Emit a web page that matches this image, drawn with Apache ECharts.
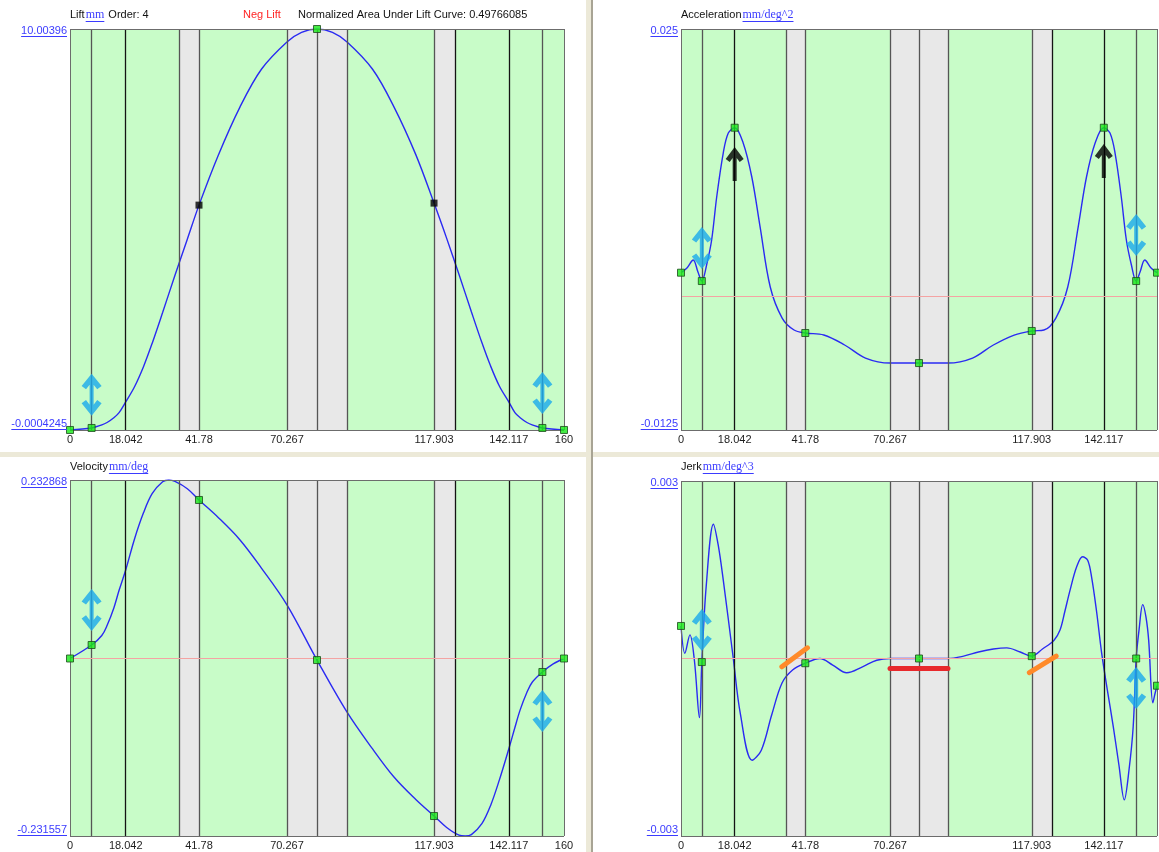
<!DOCTYPE html>
<html>
<head>
<meta charset="utf-8">
<script src="https://cdn.jsdelivr.net/npm/echarts@6/dist/echarts.min.js"></script>
<style>
  html, body { margin: 0; padding: 0; background: #ffffff; }
  #chart { width: 1159px; height: 852px; }
</style>
</head>
<body>
<div id="chart"></div>
<script>
// ---- cam profile data (degrees of rotation on x) ----
const xTickValues = [0, 18.042, 41.78, 70.267, 117.903, 142.117, 160];
const xTickValuesRight = [0, 18.042, 41.78, 70.267, 117.903, 142.117];

const grayZones = [[35.3, 41.78], [70.267, 89.733], [117.903, 124.7]];
const guideLines = [7, 18.042, 35.3, 41.78, 70.267, 80, 89.733, 117.903, 124.7, 142.117, 153];
const darkGuides = [18.042, 124.7, 142.117];

// Lift (mm)
const liftX = [0, 7, 10.3, 12, 14.2, 15.9, 18.042, 20.9, 23.8, 26.6, 30, 34, 38, 41.78, 48, 55, 62, 70.267, 75, 80, 85, 89.733, 98, 105, 112, 117.903, 122, 126, 130, 133.4, 136.2, 139.1, 142.117, 144.1, 145.8, 148, 149.7, 153, 160];
const liftY = [0, 0.05, 0.126, 0.187, 0.306, 0.434, 0.70, 1.08, 1.58, 2.16, 2.93, 3.86, 4.76, 5.61, 6.85, 8.05, 9.0, 9.68, 9.92, 10.00396, 9.92, 9.68, 9.0, 8.05, 6.87, 5.66, 4.78, 3.88, 2.95, 2.18, 1.60, 1.09, 0.70, 0.434, 0.306, 0.187, 0.126, 0.05, 0];
const liftTickLabels = ['-0.0004245', '10.00396'];
const liftGreen = [0, 7, 80, 153, 160];
const liftBlack = [41.78, 117.903];
const liftArrows = [[7, 0.88], [153, 0.92]];

// Velocity (mm/deg)
const velX = [0, 7, 10.3, 12, 14.2, 15.9, 18.042, 20.9, 23.8, 26.6, 30, 32, 34, 38, 41.78, 48, 55, 62, 70.267, 80, 89.733, 98, 105, 112, 117.903, 122, 126, 128, 130, 133.4, 136.2, 139.1, 142.117, 144.1, 145.8, 148, 149.7, 153, 156.5, 160];
const velY = [0, 0.0176, 0.03, 0.043, 0.066, 0.089, 0.1155, 0.156, 0.19, 0.215, 0.2305, 0.232868, 0.231, 0.2215, 0.2068, 0.184, 0.155, 0.118, 0.07, -0.002, -0.07, -0.118, -0.155, -0.184, -0.2055, -0.2205, -0.2305, -0.231557, -0.2298, -0.2155, -0.192, -0.158, -0.118, -0.09, -0.067, -0.044, -0.031, -0.0176, -0.007, 0];
const velTickLabels = ['-0.231557', '0.232868'];
const velGreen = [0, 7, 41.78, 80, 117.903, 153, 160];
const velArrows = [[7, 0.0633], [153, -0.0685]];

// Acceleration (mm/deg^2)
const accX = [0, 2, 4.1, 5.7, 7, 8.6, 10.3, 12, 14.2, 15.9, 18.042, 20.9, 23.8, 26.6, 30, 34, 38, 41.78, 48, 55, 62, 70.267, 80, 89.733, 98, 105, 112, 117.903, 122, 126, 130, 133.5, 136.3, 139.2, 142.117, 144.2, 145.9, 148, 149.7, 151.4, 153, 154.3, 155.9, 158, 160];
const accY = [0.00221, 0.00265, 0.0034, 0.00227, 0.00143, 0.00293, 0.00527, 0.00929, 0.0134, 0.01527, 0.01577, 0.01434, 0.01116, 0.00648, 0.00087, -0.00203, -0.00315, -0.00343, -0.00362, -0.00455, -0.00577, -0.00624, -0.00624, -0.00624, -0.00577, -0.00455, -0.00362, -0.00324, -0.00315, -0.00203, 0.00087, 0.00648, 0.01116, 0.01434, 0.01577, 0.01527, 0.0134, 0.00929, 0.00527, 0.00293, 0.00143, 0.00227, 0.0034, 0.00265, 0.00221];
const accTickLabels = ['-0.0125', '0.025'];
const accGreen = [0, 7, 18.042, 41.78, 80, 117.903, 142.117, 153, 160];
const accArrows = [[7, 0.00452], [153, 0.00573]];
const accUpArrows = [[18.042, 0.01237], [142.117, 0.01266]];

// Jerk (mm/deg^3)
const jerkX = [0, 1.3, 3, 4.5, 6.2, 7, 8.5, 10.9, 12.5, 14.2, 17.5, 20, 23.9, 27, 30.5, 34, 37.6, 41.78, 46.7, 51, 55.7, 61, 65.8, 70.267, 80, 89.733, 95, 100, 105, 109.5, 114, 117.903, 121.5, 125.4, 127.4, 129, 130.8, 133, 135, 136.7, 138, 139.7, 141.4, 143.3, 145.3, 147.2, 149, 150.6, 152, 153, 154, 155.2, 156.3, 157.2, 158.6, 159.3, 160];
const jerkY = [0.00055, 0.00009, 0.0004, -0.00003, -0.001, -0.00006, 0.00124, 0.00227, 0.00192, 0.00133, 0.00003, -0.00095, -0.00172, -0.00155, -0.00095, -0.00041, -0.00019, -0.00008, 0, -0.00011, -0.00024, -0.00014, -0.00003, 0, 0, 0, 0.00004, 0.00011, 0.00016, 0.00018, 0.00011, 0.00004, 0.00016, 0.00031, 0.00048, 0.00079, 0.00116, 0.00155, 0.00172, 0.00166, 0.00138, 0.00079, 0.00009, -0.00053, -0.00115, -0.0018, -0.00239, -0.00188, -0.00115, 0, 0.0005, 0.00091, 0.0007, 0.00031, -0.00075, -0.0006, -0.00046];
const jerkTickLabels = ['-0.003', '0.003'];
const jerkGreen = [0, 7, 41.78, 80, 117.903, 153, 160];
const jerkArrows = [[7, 0.00048], [153, -0.0005]];
// boundary-condition strokes drawn on the jerk plot
const jerkSlopes = [[[33.9, -0.00014], [42.5, 0.00018]], [[117.1, -0.00024], [126.1, 0.00004]]];
const jerkFlat = [[70.267, -0.00016], [89.733, -0.00016]];

// ---- styling ----
const SANS = '"Liberation Sans", Arial, sans-serif';
const SERIF = '"Liberation Serif", "Times New Roman", serif';
const LINK = '#3b3bff';
const GREEN_BG = '#c8fcc8';
const GRAY_ZONE = '#e8e8e8';
const CURVE = '#2a2af2';
const DOUBLE_ARROW = 'path://M10 0 L20 13 L15.6 16.35 L12 11.6 L12 32.4 L15.6 27.65 L20 31 L10 44 L0 31 L4.4 27.65 L8 32.4 L8 11.6 L4.4 16.35 L0 13 Z';
const UP_ARROW = 'path://M9 0 L18 12 L14 15 L11 11 L11 34 L7 34 L7 11 L4 15 L0 12 Z';

const panels = [
  { grid: { left: 70, top: 29, width: 494, height: 401 }, xs: liftX, ys: liftY, yMin: -0.0004245, yMax: 10.00396,
    tickLabels: liftTickLabels, xTicks: xTickValues, green: liftGreen, black: liftBlack, arrows: liftArrows, up: [],
    title: 'Lift', unit: 'mm', titleY: 15 },
  { grid: { left: 681, top: 29, width: 476, height: 401 }, xs: accX, ys: accY, yMin: -0.0125, yMax: 0.025,
    tickLabels: accTickLabels, xTicks: xTickValuesRight, green: accGreen, black: [], arrows: accArrows, up: accUpArrows,
    title: 'Acceleration', unit: 'mm/deg^2', titleY: 15 },
  { grid: { left: 70, top: 480, width: 494, height: 356 }, xs: velX, ys: velY, yMin: -0.231557, yMax: 0.232868,
    tickLabels: velTickLabels, xTicks: xTickValues, green: velGreen, black: [], arrows: velArrows, up: [],
    title: 'Velocity', unit: 'mm/deg', titleY: 467 },
  { grid: { left: 681, top: 481, width: 476, height: 355 }, xs: jerkX, ys: jerkY, yMin: -0.003, yMax: 0.003,
    tickLabels: jerkTickLabels, xTicks: xTickValuesRight, green: jerkGreen, black: [], arrows: jerkArrows, up: [],
    title: 'Jerk', unit: 'mm/deg^3', titleY: 467 }
];

const pointAt = (p, x) => [x, p.ys[p.xs.indexOf(x)]];

const grids = [], xAxes = [], yAxes = [], series = [];

panels.forEach((p, i) => {
  grids.push(Object.assign({ show: true, backgroundColor: GREEN_BG, borderWidth: 0 }, p.grid));

  xAxes.push({
    type: 'value', gridIndex: i, min: 0, max: 160,
    axisLine: { show: false }, axisTick: { show: false }, splitLine: { show: false },
    axisLabel: {
      customValues: p.xTicks, margin: 4, color: '#1e1e1e', fontSize: 11, fontFamily: SANS,
      formatter: v => String(v)
    }
  });

  const mid = (p.yMin + p.yMax) / 2;
  yAxes.push({
    type: 'value', gridIndex: i, min: p.yMin, max: p.yMax,
    axisLine: { show: false }, axisTick: { show: false }, splitLine: { show: false },
    axisLabel: {
      customValues: [p.yMin, p.yMax], margin: 3, fontSize: 11, fontFamily: SANS, color: LINK,
      formatter: v => (v < mid ? '{lo|' + p.tickLabels[0] + '}' : '{hi|' + p.tickLabels[1] + '}'),
      rich: {
        lo: { color: LINK, fontSize: 11, fontFamily: SANS, lineHeight: 12, padding: [0, 0, 13, 0] },
        hi: { color: LINK, fontSize: 11, fontFamily: SANS, lineHeight: 12, padding: [4, 0, 0, 0] }
      }
    }
  });

  // shaded zones, guide lines, zero line and plot frame
  const lines = guideLines.map(v => ({
    xAxis: v,
    lineStyle: { color: darkGuides.includes(v) ? '#141414' : '#555555', width: 1.3, type: 'solid' }
  }));
  lines.push({ yAxis: 0, lineStyle: { color: '#f4a3a3', width: 1, type: 'solid' } });
  [0, 160].forEach(v => lines.push({ xAxis: v, lineStyle: { color: '#6c6c6c', width: 1, type: 'solid' } }));
  [p.yMin, p.yMax].forEach(v => lines.push({ yAxis: v, lineStyle: { color: '#6c6c6c', width: 1, type: 'solid' } }));

  series.push({
    type: 'line', xAxisIndex: i, yAxisIndex: i, z: 1, silent: true,
    data: [[0, p.yMin]], showSymbol: false, lineStyle: { opacity: 0 },
    markArea: { silent: true, itemStyle: { color: GRAY_ZONE }, data: grayZones.map(([a, b]) => [{ xAxis: a }, { xAxis: b }]) },
    markLine: { silent: true, precision: 10, symbol: ['none', 'none'], label: { show: false }, animation: false, data: lines }
  });

  series.push({
    type: 'line', xAxisIndex: i, yAxisIndex: i, z: 3, silent: true,
    data: p.xs.map((x, j) => [x, p.ys[j]]),
    smooth: 0.35, showSymbol: false,
    lineStyle: { color: CURVE, width: 1.4 }
  });

  series.push({
    type: 'scatter', xAxisIndex: i, yAxisIndex: i, z: 5, silent: true,
    data: p.arrows, symbol: DOUBLE_ARROW, symbolSize: [20, 42],
    itemStyle: { color: '#19a9ec' }
  });

  if (p.up.length) {
    series.push({
      type: 'scatter', xAxisIndex: i, yAxisIndex: i, z: 5, silent: true,
      data: p.up, symbol: UP_ARROW, symbolSize: [18, 34],
      itemStyle: { color: '#000000' }
    });
  }

  series.push({
    type: 'scatter', xAxisIndex: i, yAxisIndex: i, z: 6, silent: true, clip: false,
    data: p.green.map(x => pointAt(p, x)), symbol: 'rect', symbolSize: 7,
    itemStyle: { color: '#18e818', borderColor: '#1c4a1c', borderWidth: 1 }
  });

  if (p.black.length) {
    series.push({
      type: 'scatter', xAxisIndex: i, yAxisIndex: i, z: 6, silent: true, clip: false,
      data: p.black.map(x => pointAt(p, x)), symbol: 'rect', symbolSize: 7,
      itemStyle: { color: '#000000' }
    });
  }
});

// jerk boundary strokes
series.push({
  type: 'line', xAxisIndex: 3, yAxisIndex: 3, z: 4, silent: true,
  data: [[0, jerkY[0]]], showSymbol: false, lineStyle: { opacity: 0 },
  markLine: {
    silent: true, precision: 10, symbol: ['none', 'none'], label: { show: false }, animation: false,
    data: [
      ...jerkSlopes.map(([a, b]) => [{ coord: a, lineStyle: { color: '#ff8a2a', width: 5, cap: 'round', type: 'solid' } }, { coord: b }]),
      [{ coord: jerkFlat[0], lineStyle: { color: '#e8282c', width: 5, cap: 'round', type: 'solid' } }, { coord: jerkFlat[1] }]
    ]
  }
});

// ---- panel headings, window splitters and underlines ----
const measureCtx = document.createElement('canvas').getContext('2d');
function textWidth(str, font) { measureCtx.font = font; return measureCtx.measureText(str).width; }

const graphics = [];
// splitters between the four panes
graphics.push({ type: 'rect', shape: { x: 586, y: 0, width: 5, height: 852 }, style: { fill: '#ece9d8' }, z: 0 });
graphics.push({ type: 'rect', shape: { x: 591, y: 0, width: 2, height: 852 }, style: { fill: '#a8a494' }, z: 0 });
graphics.push({ type: 'rect', shape: { x: 0, y: 452, width: 586, height: 5 }, style: { fill: '#ece9d8' }, z: 0 });
graphics.push({ type: 'rect', shape: { x: 593, y: 452, width: 566, height: 5 }, style: { fill: '#ece9d8' }, z: 0 });

function addText(str, x, y, font, color) {
  graphics.push({ type: 'text', z: 10, style: { text: str, x: x, y: y, font: font, fill: color, textVerticalAlign: 'middle', verticalAlign: 'middle' } });
}
function addUnderline(x1, x2, y, color) {
  graphics.push({ type: 'line', z: 10, shape: { x1: x1, y1: y, x2: x2, y2: y }, style: { stroke: color, lineWidth: 1 } });
}

const titleFont = '11px ' + SANS;
const unitFont = '12px ' + SERIF;
panels.forEach(p => {
  const x0 = p.grid.left;
  const w1 = textWidth(p.title, titleFont);
  addText(p.title, x0, p.titleY, titleFont, '#111111');
  const w2 = textWidth(p.unit, unitFont);
  addText(p.unit, x0 + w1 + 1, p.titleY, unitFont, LINK);
  addUnderline(x0 + w1 + 1, x0 + w1 + 1 + w2, p.titleY + 6.5, LINK);

  // underline the two axis limit labels
  const right = p.grid.left - 3;
  const wHi = textWidth(p.tickLabels[1], titleFont);
  const wLo = textWidth(p.tickLabels[0], titleFont);
  addUnderline(right - wHi, right, p.grid.top + 7.5, LINK);
  addUnderline(right - wLo, right, p.grid.top + p.grid.height - 0.5, LINK);
});
// extra info on the lift pane
(function () {
  const p = panels[0];
  const after = p.grid.left + textWidth(p.title, titleFont) + 1 + textWidth(p.unit, unitFont) + 4;
  addText('Order: 4', after, p.titleY, titleFont, '#111111');
  addText('Neg Lift', 243, p.titleY, titleFont, '#ff2424');
  addText('Normalized Area Under Lift Curve: 0.49766085', 298, p.titleY, titleFont, '#111111');
})();

const chart = echarts.init(document.getElementById('chart'));
chart.setOption({
  animation: false,
  backgroundColor: '#ffffff',
  grid: grids,
  xAxis: xAxes,
  yAxis: yAxes,
  series: series,
  graphic: graphics
});
</script>
</body>
</html>
